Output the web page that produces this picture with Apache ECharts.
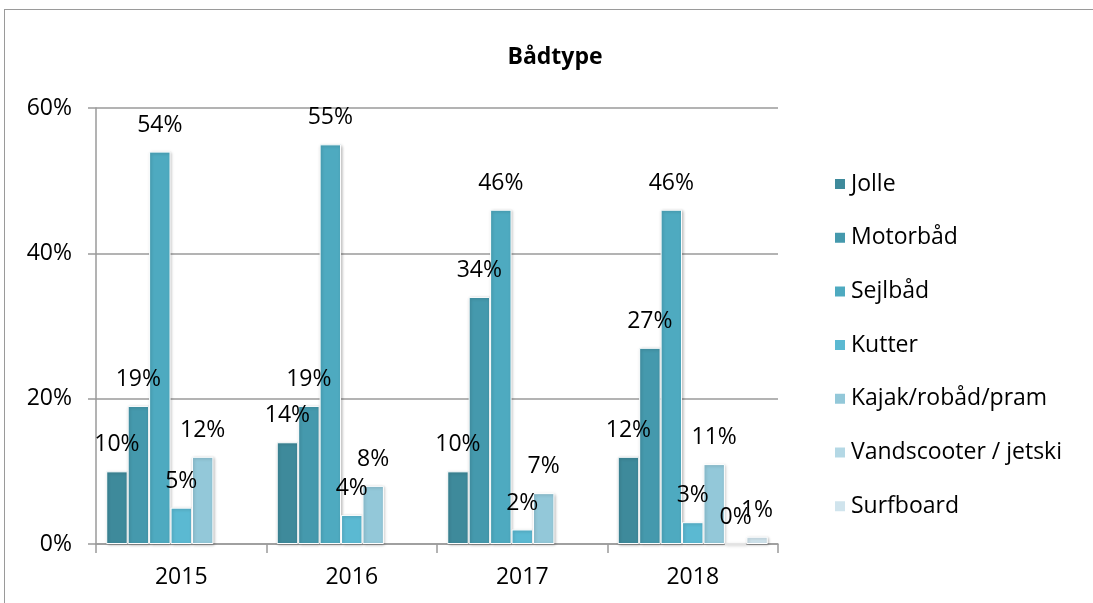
<!DOCTYPE html>
<html>
<head>
<meta charset="utf-8">
<script src="https://cdn.jsdelivr.net/npm/echarts@6/dist/echarts.min.js"></script>
<style>
  html, body { margin: 0; padding: 0; background: #fff; }
  #main { width: 1093px; height: 603px; position: relative; }
  .frame { position: absolute; left: 4px; top: 9px; right: -2px; bottom: -2px;
           border-left: 1px solid #9a9a9a; border-top: 1px solid #9a9a9a; pointer-events: none; }
</style>
</head>
<body>
<div id="main"></div>
<div class="frame"></div>
<script>
  const years = ['2015', '2016', '2017', '2018']
  const seriesNames = ['Jolle', 'Motorbåd', 'Sejlbåd', 'Kutter', 'Kajak/robåd/pram', 'Vandscooter / jetski', 'Surfboard']
  const jolle = [10, 14, 10, 12]
  const motorbaad = [19, 19, 34, 27]
  const sejlbaad = [54, 55, 46, 46]
  const kutter = [5, 4, 2, 3]
  const kajak = [12, 8, 7, 11]
  const vandscooter = ['-', '-', '-', 0]
  const surfboard = ['-', '-', '-', 1]
  const colors = ['#3e8a9b', '#4599ad', '#4eaac0', '#5bb9d2', '#93c8d9', '#b4d8e5', '#d0e4ed']

  const font = '"Open Sans", sans-serif'
  const allValues = [jolle, motorbaad, sejlbaad, kutter, kajak, vandscooter, surfboard]

  const chart = echarts.init(document.getElementById('main'))

  const series = allValues.map((vals, i) => {
    return {
      name: seriesNames[i],
      type: 'bar',
      data: vals,
      barGap: '0%',
      barCategoryGap: '12%',
      itemStyle: {
        color: colors[i],
        borderColor: '#ffffff',
        borderWidth: 1,
        shadowColor: 'rgba(0,0,0,0.25)',
        shadowBlur: 3,
        shadowOffsetX: 1,
        shadowOffsetY: 1
      },
      label: {
        show: true,
        position: 'top',
        distance: 15,
        formatter: '{c}%',
        color: '#000',
        fontSize: 23,
        fontFamily: font
      }
    }
  })

  const option = {
    animation: false,
    color: colors,
    title: {
      text: 'Bådtype',
      left: 550,
      top: 41,
      textAlign: 'center',
      textStyle: { fontSize: 23, fontWeight: 'bold', color: '#000', fontFamily: font }
    },
    legend: {
      orient: 'vertical',
      left: 828,
      top: 165,
      icon: 'rect',
      itemWidth: 12,
      itemHeight: 12,
      itemGap: 25.7,
      textStyle: { fontSize: 23, color: '#000', fontFamily: font, lineHeight: 28 },
      data: seriesNames
    },
    grid: {
      left: 96,
      top: 108,
      right: 315,
      bottom: 59,
      containLabel: false
    },
    xAxis: {
      type: 'category',
      data: years,
      axisLine: { lineStyle: { color: '#9a9a9a', width: 1.5 } },
      axisTick: { show: true, length: 9, lineStyle: { color: '#9a9a9a', width: 1.5 } },
      axisLabel: { fontSize: 23, color: '#000', fontFamily: font, margin: 22 }
    },
    yAxis: {
      type: 'value',
      min: 0,
      max: 60,
      interval: 20,
      axisLine: { show: true, lineStyle: { color: '#9a9a9a', width: 1.5 } },
      axisTick: { show: true, length: 8, lineStyle: { color: '#9a9a9a', width: 1.5 } },
      splitLine: { lineStyle: { color: '#9a9a9a', width: 1.5 } },
      axisLabel: { formatter: '{value}%', fontSize: 23, color: '#000', fontFamily: font, margin: 24 }
    },
    series: series
  }

  chart.setOption(option)
</script>
</body>
</html>
